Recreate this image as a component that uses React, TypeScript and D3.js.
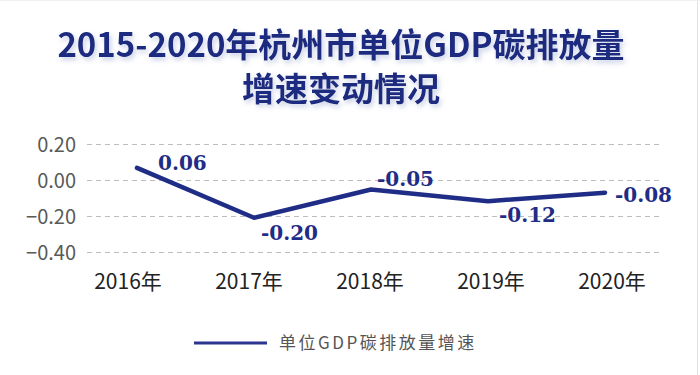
import React from "react";
import * as d3 from "d3";

const years = ["2016年", "2017年", "2018年", "2019年", "2020年"];
const values = [0.07, -0.207, -0.05, -0.115, -0.068];
const valueLabels = ["0.06", "-0.20", "-0.05", "-0.12", "-0.08"];
const yTicks = [0.2, 0.0, -0.2, -0.4];
const titleLines = ["2015-2020年杭州市单位GDP碳排放量", "增速变动情况"];
const seriesName = "单位GDP碳排放量增速";

const W = 700;
const H = 375;
const NAVY = "#1f2d86";

// label offsets relative to point (dx, dy)
const labelOffsets: [number, number][] = [
  [21, 2],
  [7, 22],
  [6, -4],
  [11, 21],
  [10, 9],
];

export default function App() {
  const y = d3.scaleLinear().domain([-0.4, 0.2]).range([252.5, 144.5]);
  const xLabel = d3.scalePoint<string>().domain(years).range([128, 612]);
  const xPt = d3.scalePoint<string>().domain(years).range([137, 605]);
  const line = d3
    .line<number>()
    .x((_, i) => xPt(years[i]) as number)
    .y((d) => y(d));

  return (
    <svg
      width={W}
      height={H}
      style={{ position: "fixed", left: 0, top: 0, background: "#fff" }}
    >
      <defs>
        <filter id="sh" x="-10%" y="-30%" width="120%" height="160%">
          <feDropShadow dx="2" dy="3" stdDeviation="2.5" floodColor="#8a9ac8" floodOpacity="0.45" />
        </filter>
      </defs>
      <rect x={0} y={0} width={W} height={H} fill="#fff" />
      <line x1={697.5} x2={697.5} y1={0} y2={H} stroke="#e2e2e2" strokeWidth={1} />
      <line x1={0} x2={W} y1={0.5} y2={0.5} stroke="#f0f0f0" strokeWidth={1} />

      <g filter="url(#sh)" fontFamily="'Noto Sans CJK SC', 'Noto Sans', sans-serif" fontWeight="bold" fill="#1c2a80" textAnchor="middle">
        <text x={341} y={57} fontSize={33}>{titleLines[0]}</text>
        <text x={341} y={101} fontSize={33}>{titleLines[1]}</text>
      </g>

      {yTicks.map((t) => (
        <g key={t}>
          <line
            x1={87}
            x2={660}
            y1={y(t)}
            y2={y(t)}
            stroke="#bdbdbd"
            strokeWidth={1}
            strokeDasharray="5,4"
          />
          <text
            x={76}
            y={y(t)}
            dy="0.35em"
            textAnchor="end"
            fontFamily="'Noto Sans CJK SC', 'Noto Sans', sans-serif"
            fontSize={20}
            fill="#595959"
          >
            {d3.format(".2f")(t)}
          </text>
        </g>
      ))}

      {years.map((yr) => (
        <text
          key={yr}
          x={xLabel(yr)}
          y={289}
          textAnchor="middle"
          fontFamily="'Noto Sans CJK SC', 'Noto Sans', sans-serif"
          fontSize={21}
          fill="#222"
        >
          {yr}
        </text>
      ))}

      <path
        d={line(values) || ""}
        fill="none"
        stroke={NAVY}
        strokeWidth={4.5}
        strokeLinejoin="round"
        strokeLinecap="round"
      />

      {values.map((v, i) => (
        <text
          key={i}
          x={(xPt(years[i]) as number) + labelOffsets[i][0]}
          y={y(v) + labelOffsets[i][1]}
          fontFamily="'DejaVu Serif', serif"
          fontWeight="bold"
          fontSize={20}
          fill={NAVY}
        >
          {valueLabels[i]}
        </text>
      ))}

      <line x1={194} x2={267} y1={343} y2={343} stroke="#2b3590" strokeWidth={3} />
      <text
        x={279}
        y={349}
        fontFamily="'Noto Sans CJK SC', sans-serif"
        fontSize={17}
        letterSpacing={2.5}
        fill="#555"
      >
        {seriesName}
      </text>
    </svg>
  );
}
